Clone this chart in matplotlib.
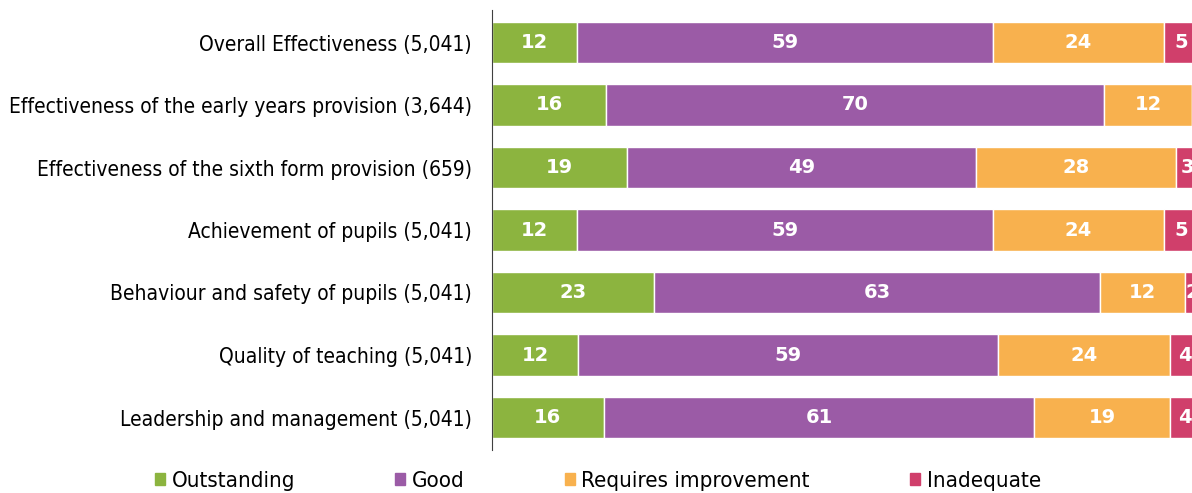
import numpy as np
import matplotlib
matplotlib.use("Agg")
import matplotlib.pyplot as plt
from matplotlib.patches import Patch

categories = [
    "Overall Effectiveness (5,041)",
    "Effectiveness of the early years provision (3,644)",
    "Effectiveness of the sixth form provision (659)",
    "Achievement of pupils (5,041)",
    "Behaviour and safety of pupils (5,041)",
    "Quality of teaching (5,041)",
    "Leadership and management (5,041)",
]
series_names = ["Outstanding", "Good", "Requires improvement", "Inadequate"]
# percentages (labels are the rounded values)
outstanding = [12.0, 16.1, 19.1, 12.0, 22.9, 12.2, 15.8]
good = [58.8, 70.4, 49.3, 58.8, 63.0, 59.3, 60.8]
requires_improvement = [24.1, 12.4, 28.2, 24.1, 12.0, 24.3, 19.2]
inadequate = [5.1, 1.1, 3.4, 5.1, 2.1, 4.2, 4.2]

colors = ["#8cb43f", "#9b5ba6", "#f8b14e", "#d03f6b"]

plt.rcParams['font.family'] = ['DejaVu Sans']

fig = plt.figure(figsize=(11.92, 4.93), dpi=100)
ax = fig.add_axes([492 / 1192, 1 - 450 / 493, 1 - 492 / 1192, 440 / 493])

xmax = 98.9
y = np.arange(len(categories))
left = np.zeros(len(categories))
for name, vals, col in zip(series_names,
                           [outstanding, good, requires_improvement, inadequate],
                           colors):
    vals = np.array(vals)
    ax.barh(y, vals, left=left, height=0.67, color=col,
            edgecolor="white", linewidth=1, label=name)
    for yi, l, v in zip(y, left, vals):
        cx = l + v / 2
        if cx > xmax + 0.3:  # label falls outside the visible area
            continue
        ax.text(cx, yi, f"{round(v)}", ha="center", va="center",
                color="white", fontsize=14, fontweight="bold", clip_on=True)
    left += vals

ax.set_xlim(0, xmax)
ax.set_ylim(len(categories) - 0.48, -0.52)
ax.set_yticks(y)
ax.set_yticklabels(categories, fontsize=15, fontstretch="condensed")
ax.tick_params(axis="y", length=0, pad=14.4)
ax.set_xticks([])
for s in ["top", "right", "bottom"]:
    ax.spines[s].set_visible(False)
ax.spines["left"].set_color("#404040")

handles = [Patch(color=c) for c in colors]
fig.legend(handles, series_names, loc="center", bbox_to_anchor=(598 / 1192, 1 - 481 / 493),
           ncol=4, frameon=False, handlelength=0.45, handleheight=0.45,
           handletextpad=0.3, columnspacing=4.5,
           prop={"size": 16, "stretch": "condensed"})

fig.savefig("out.png", dpi=100)
